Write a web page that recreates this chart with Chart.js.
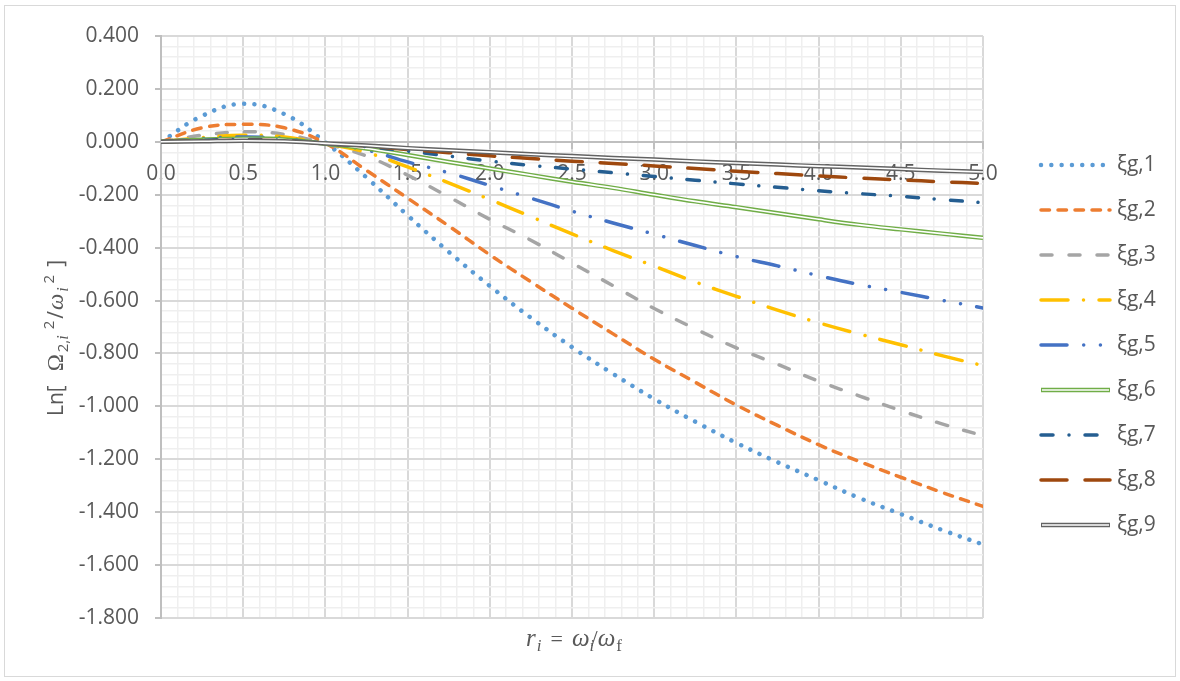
<!DOCTYPE html>
<html>
<head>
<meta charset="utf-8">
<script src="https://cdn.jsdelivr.net/npm/chart.js@4/dist/chart.umd.min.js"></script>
<style>
  html, body { margin: 0; background: #fff; }
  #wrap { position: relative; width: 1180px; height: 681px; }
</style>
</head>
<body>
<div id="wrap"><canvas id="chart"></canvas></div>
<script>
// r_i = omega_i / omega_f, sampled every 0.25
const R_VALUES = [0, 0.25, 0.5, 0.75, 1.0, 1.25, 1.5, 1.75, 2.0, 2.25, 2.5,
                  2.75, 3.0, 3.25, 3.5, 3.75, 4.0, 4.25, 4.5, 4.75, 5.0];

// Ln[ Omega^2 / omega^2 ] for each damping ratio xi_g
const XI_G1 = [0, 0.098, 0.144, 0.105, -0.002, -0.135, -0.278, -0.416, -0.545, -0.665, -0.776,
               -0.877, -0.972, -1.058, -1.138, -1.211, -1.279, -1.347, -1.407, -1.467, -1.522];
const XI_G2 = [0, 0.053, 0.066, 0.053, -0.005, -0.108, -0.213, -0.318, -0.427, -0.529, -0.629,
               -0.726, -0.822, -0.909, -0.995, -1.072, -1.145, -1.209, -1.268, -1.325, -1.378];
const XI_G3 = [0, 0.025, 0.038, 0.028, -0.007, -0.054, -0.126, -0.208, -0.293, -0.372, -0.458,
               -0.544, -0.630, -0.707, -0.779, -0.841, -0.905, -0.961, -1.016, -1.066, -1.111];
const XI_G4 = [0, 0.016, 0.025, 0.018, -0.007, -0.040, -0.095, -0.155, -0.218, -0.283, -0.348,
               -0.411, -0.470, -0.530, -0.584, -0.636, -0.684, -0.727, -0.767, -0.808, -0.846];
const XI_G5 = [0, 0.012, 0.018, 0.013, -0.007, -0.031, -0.076, -0.117, -0.165, -0.213, -0.262,
               -0.307, -0.349, -0.392, -0.434, -0.469, -0.506, -0.540, -0.569, -0.599, -0.628];
const XI_G6 = [0, 0.008, 0.012, 0.009, -0.007, -0.025, -0.050, -0.076, -0.101, -0.126, -0.151,
               -0.174, -0.200, -0.225, -0.247, -0.270, -0.293, -0.314, -0.331, -0.347, -0.363];
const XI_G7 = [0, 0.006, 0.009, 0.006, -0.007, -0.018, -0.035, -0.054, -0.073, -0.089, -0.103,
               -0.117, -0.131, -0.145, -0.159, -0.172, -0.185, -0.196, -0.206, -0.218, -0.230];
const XI_G8 = [0, 0.004, 0.006, 0.004, -0.007, -0.016, -0.029, -0.041, -0.053, -0.063, -0.073,
               -0.082, -0.091, -0.101, -0.111, -0.120, -0.129, -0.137, -0.144, -0.151, -0.157];
const XI_G9 = [0, 0.002, 0.004, 0.002, -0.006, -0.014, -0.024, -0.032, -0.039, -0.047, -0.054,
               -0.061, -0.067, -0.074, -0.080, -0.086, -0.092, -0.097, -0.103, -0.109, -0.114];

const SERIES_NAMES = ['ξg,1', 'ξg,2', 'ξg,3', 'ξg,4', 'ξg,5', 'ξg,6', 'ξg,7', 'ξg,8', 'ξg,9'];
const SERIES_DATA  = [XI_G1, XI_G2, XI_G3, XI_G4, XI_G5, XI_G6, XI_G7, XI_G8, XI_G9];

// Axis ranges and tick steps
const X_MIN = 0, X_MAX = 5, X_MINOR = 0.1, X_MAJOR = 0.5;
const Y_MIN = -1.8, Y_MAX = 0.4, Y_MINOR = 0.04, Y_MAJOR = 0.2;

// Line styles, one per series (office palette, dash patterns)
const STYLES = [
  { color: '#5B9BD5', width: 4.5, dash: [0.01, 10.3] },
  { color: '#ED7D31', width: 3.5, dash: [8.5, 8.5] },
  { color: '#A5A5A5', width: 3.5, dash: [11, 17] },
  { color: '#FFC000', width: 3.5, dash: [27, 15.5, 0.01, 15.5] },
  { color: '#4472C4', width: 3.5, dash: [26, 16.7, 0.01, 16.7, 0.01, 16.7] },
  { color: '#70AD47', width: 4.5, dash: [], double: true },
  { color: '#255E91', width: 3.5, dash: [12, 16, 0.01, 16] },
  { color: '#9E480E', width: 3.5, dash: [26, 18] },
  { color: '#636363', width: 4.5, dash: [], double: true },
];
const CORE_WIDTH = 1.6;

const TEXT_COL = '#595959';
const SANS = "'Open Sans', sans-serif";
const SERIF = "'Liberation Serif', serif";

Chart.defaults.font.family = SANS;
Chart.defaults.font.size = 21;
Chart.defaults.color = TEXT_COL;

const isMultiple = (v, step) => Math.abs(v / step - Math.round(v / step)) < 1e-6;

// build datasets (double lines get a thin white core on top)
const datasets = [];
SERIES_DATA.forEach((ys, i) => {
  const st = STYLES[i];
  const pts = R_VALUES.map((x, k) => ({ x: x, y: ys[k] }));
  datasets.push({
    label: SERIES_NAMES[i],
    data: pts,
    borderColor: st.color,
    borderWidth: st.width,
    borderDash: st.dash,
    borderCapStyle: st.dash.length ? 'round' : 'butt',
    borderJoinStyle: 'round',
    pointRadius: 0,
    tension: 0.4,
    fill: false,
    order: 40 - 2 * i,
  });
  if (st.double) {
    datasets.push({
      label: SERIES_NAMES[i] + ' core',
      data: pts,
      borderColor: '#ffffff',
      borderWidth: CORE_WIDTH,
      pointRadius: 0,
      tension: 0.4,
      fill: false,
      order: 39 - 2 * i,
    });
  }
});

// white background + outer frame
const frame = {
  id: 'frame',
  beforeDraw(chart) {
    const ctx = chart.ctx;
    ctx.save();
    ctx.fillStyle = '#fff';
    ctx.fillRect(0, 0, chart.width, chart.height);
    ctx.strokeStyle = '#d9d9d9';
    ctx.lineWidth = 1;
    ctx.strokeRect(4.5, 5.5, 1171, 671);
    ctx.restore();
  }
};

function fontOf(p) {
  return (p.italic ? 'italic ' : '') + p.size + 'px ' + (p.family || SANS);
}

// draws a run of text pieces (sub/superscripts via dy), centred on x
function drawRich(ctx, parts, x, y) {
  let total = 0;
  parts.forEach(p => {
    ctx.font = fontOf(p);
    total += (p.gap || 0) + ctx.measureText(p.t).width;
  });
  let cx = x - total / 2;
  parts.forEach(p => {
    ctx.font = fontOf(p);
    cx += p.gap || 0;
    ctx.fillText(p.t, cx, y + (p.dy || 0));
    cx += ctx.measureText(p.t).width;
  });
}

const X_TITLE = [
  { t: 'r', size: 25, italic: true, family: SERIF },
  { t: 'i', size: 17, italic: true, family: SERIF, dy: 5, gap: 1 },
  { t: '=', size: 22, family: SERIF, gap: 9 },
  { t: 'ω', size: 25, italic: true, family: SERIF, gap: 9 },
  { t: 'i', size: 17, italic: true, family: SERIF, dy: 5 },
  { t: '/', size: 23, family: SERIF, gap: -3 },
  { t: 'ω', size: 25, italic: true, family: SERIF },
  { t: 'f', size: 17, family: SERIF, dy: 5, gap: 1 },
];

const Y_TITLE = [
  { t: 'Ln[', size: 21 },
  { t: 'Ω', size: 23, family: SERIF, gap: 14 },
  { t: '2,', size: 15, dy: 5, gap: 2 },
  { t: 'i', size: 16, italic: true, family: SERIF, dy: 5 },
  { t: '2', size: 15, dy: -9, gap: 6 },
  { t: '/', size: 21, gap: 2 },
  { t: 'ω', size: 23, italic: true, family: SERIF, gap: 1 },
  { t: 'i', size: 16, italic: true, family: SERIF, dy: 5, gap: 2 },
  { t: '2', size: 15, dy: -9, gap: 4 },
  { t: ']', size: 21, gap: 8 },
];

const titles = {
  id: 'titles',
  afterDraw(chart) {
    const ctx = chart.ctx;
    const area = chart.chartArea;
    ctx.save();
    ctx.fillStyle = TEXT_COL;
    ctx.textBaseline = 'alphabetic';
    ctx.textAlign = 'left';
    drawRich(ctx, X_TITLE, (area.left + area.right) / 2 + 2, 646);
    ctx.translate(63, 338);
    ctx.rotate(-Math.PI / 2);
    drawRich(ctx, Y_TITLE, 0, 0);
    ctx.restore();
  }
};

// right-hand legend with line samples in each series' style
const sideLegend = {
  id: 'sideLegend',
  afterDraw(chart) {
    const ctx = chart.ctx;
    const x0 = 1041, x1 = 1110, top = 165, step = 45;
    ctx.save();
    STYLES.forEach((st, i) => {
      const y = top + i * step;
      ctx.beginPath();
      ctx.moveTo(x0, y);
      ctx.lineTo(x1, y);
      ctx.strokeStyle = st.color;
      ctx.lineWidth = st.width;
      ctx.lineCap = st.dash.length ? 'round' : 'butt';
      ctx.setLineDash(st.dash);
      ctx.stroke();
      if (st.double) {
        ctx.setLineDash([]);
        ctx.strokeStyle = '#fff';
        ctx.lineWidth = CORE_WIDTH;
        ctx.beginPath();
        ctx.moveTo(x0 + 1, y);
        ctx.lineTo(x1 - 1, y);
        ctx.stroke();
      }
      ctx.setLineDash([]);
      ctx.fillStyle = TEXT_COL;
      ctx.font = '21px ' + SANS;
      ctx.textBaseline = 'middle';
      ctx.textAlign = 'left';
      ctx.fillText(SERIES_NAMES[i], 1117, y);
    });
    ctx.restore();
  }
};

new Chart(document.getElementById('chart'), {
  type: 'line',
  data: { datasets: datasets },
  options: {
    responsive: true,
    maintainAspectRatio: false,
    animation: false,
    devicePixelRatio: 1,
    events: [],
    layout: { padding: { left: 0, top: 36, right: 197, bottom: 63 } },
    plugins: { legend: { display: false }, tooltip: { enabled: false } },
    scales: {
      x: {
        type: 'linear',
        position: { y: 0 },
        min: X_MIN,
        max: X_MAX,
        ticks: {
          stepSize: X_MINOR,
          autoSkip: false,
          maxRotation: 0,
          padding: 14,
          callback: v => isMultiple(v, X_MAJOR) ? v.toFixed(1) : '',
        },
        grid: {
          color: c => (c.tick && isMultiple(c.tick.value, X_MAJOR)) ? '#d9d9d9' : '#efefef',
          lineWidth: c => (c.tick && isMultiple(c.tick.value, X_MAJOR)) ? 2 : 1.5,
          tickLength: 6,
          tickColor: c => (c.tick && isMultiple(c.tick.value, X_MAJOR)) ? '#bfbfbf' : 'rgba(0,0,0,0)',
        },
        border: { display: true, color: '#bfbfbf', width: 2 },
      },
      y: {
        type: 'linear',
        position: 'left',
        min: Y_MIN,
        max: Y_MAX,
        afterFit: s => { s.width = 161; },
        ticks: {
          stepSize: Y_MINOR,
          autoSkip: false,
          maxTicksLimit: 200,
          padding: 16,
          callback: v => isMultiple(v, Y_MAJOR) ? v.toFixed(3) : '',
        },
        grid: {
          color: c => (c.tick && isMultiple(c.tick.value, Y_MAJOR)) ? '#d9d9d9' : '#efefef',
          lineWidth: c => (c.tick && isMultiple(c.tick.value, Y_MAJOR)) ? 2 : 1.5,
          tickLength: 6,
          tickColor: c => (c.tick && isMultiple(c.tick.value, Y_MAJOR)) ? '#bfbfbf' : 'rgba(0,0,0,0)',
        },
        border: { display: true, color: '#bfbfbf', width: 2 },
      },
    },
  },
  plugins: [frame, titles, sideLegend],
});
</script>
</body>
</html>
